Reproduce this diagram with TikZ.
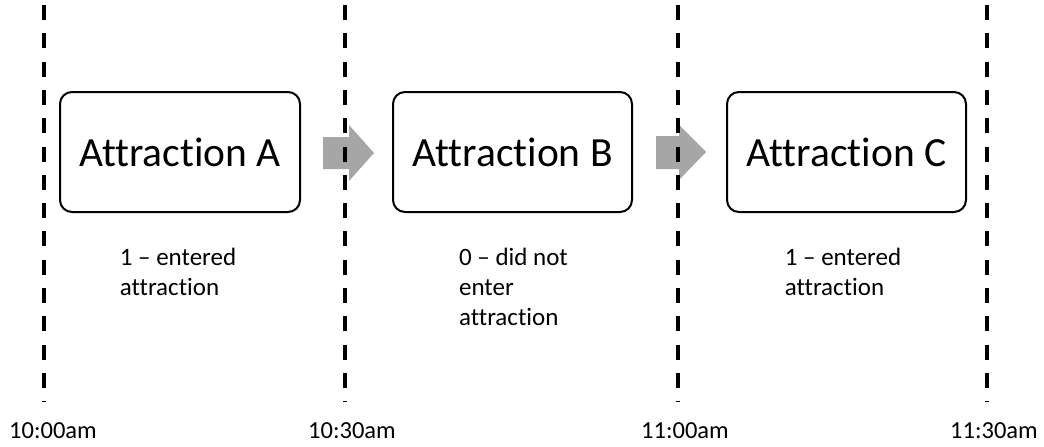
\documentclass[tikz,border=0pt]{standalone}
\usepackage{fontspec}
\setmainfont{Carlito}[Ligatures={TeX,NoCommon}]
\usetikzlibrary{calc}
\definecolor{flowgray}{HTML}{A6A6A6}
\tikzset{
  attbox/.style={draw=black, line width=2pt, rounded corners=12pt,
    minimum width=240pt, minimum height=120pt, inner sep=0pt,
    font=\fontsize{41.5}{48}\selectfont},
  timeline/.style={line width=3.5pt, dash pattern=on 15pt off 13.3pt},
  note/.style={anchor=base, inner sep=0pt, font=\fontsize{25}{30}\selectfont},
  stamp/.style={anchor=base, inner sep=0pt, font=\fontsize{24.5}{30}\selectfont},
  flowarrow/.style={fill=flowgray, draw=none}
}
\begin{document}
\begin{tikzpicture}[x=1pt, y=-1pt]
  \useasboundingbox (0,0) rectangle (1044,447);

  % attraction boxes
  \node[attbox] (A) at (180,152) {Attraction A};
  \node[attbox, minimum width=239pt] (B) at (512.5,152) {Attraction B};
  \node[attbox, minimum width=239pt] (C) at (846.5,152) {Attraction C};

  % block arrows between the boxes
  \fill[flowarrow] ($(A.east)+(22,-15)$) -- ++(26,0) -- ++(0,-12) -- ++(25,28)
    -- ++(-25,28) -- ++(0,-12) -- ++(-26,0) -- cycle;
  \fill[flowarrow] ($(B.east)+(23,-16)$) -- ++(23,0) -- ++(0,-11) -- ++(27,27)
    -- ++(-27,28) -- ++(0,-11) -- ++(-23,0) -- cycle;

  % half-hour time lines
  \coordinate (t1) at (44,5);    \coordinate (b1) at (44,402);
  \coordinate (t2) at (345,5);   \coordinate (b2) at (345,402);
  \coordinate (t3) at (678,5);   \coordinate (b3) at (678,402);
  \coordinate (t4) at (987,5);   \coordinate (b4) at (987,402);
  \foreach \i in {1,2,3,4} \draw[timeline] (t\i) -- (b\i);

  % outcome notes
  \node[note] (nA) at (178,265) {\begin{tabular}[t]{@{}l@{}}1 – entered\\attraction\end{tabular}};
  \node[note] (nB) at (513.5,265) {\begin{tabular}[t]{@{}l@{}}0 – did not\\enter\\attraction\end{tabular}};
  \node[note] (nC) at (843,265) {\begin{tabular}[t]{@{}l@{}}1 – entered\\attraction\end{tabular}};

  % time stamps
  \node[stamp] (s1) at ($(b1)+(9,36)$) {10:00am};
  \node[stamp] (s2) at ($(b2)+(7,36)$) {10:30am};
  \node[stamp] (s3) at ($(b3)+(7,36)$) {11:00am};
  \node[stamp] (s4) at ($(b4)+(7,36)$) {11:30am};
\end{tikzpicture}
\end{document}
